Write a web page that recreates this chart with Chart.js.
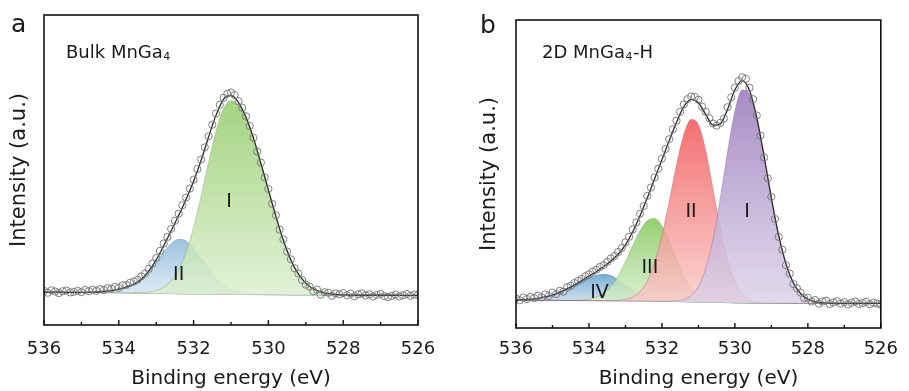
<!DOCTYPE html>
<html><head><meta charset="utf-8">
<script src="https://cdn.jsdelivr.net/npm/chart.js@4/dist/chart.umd.min.js"></script>
<style>
html,body{margin:0;padding:0;background:#fff;}
#wrap{position:relative;width:909px;height:391px;overflow:hidden;}
#ca{position:absolute;left:0;top:0;}
#cb{position:absolute;left:455px;top:0;}
</style></head><body>
<div id="wrap">
<canvas id="ca" width="455" height="391"></canvas>
<canvas id="cb" width="454" height="391"></canvas>
</div>
<script>
// ---- shared energy grids (eV) ----
const energyData = [536.0,535.9,535.8,535.7,535.6,535.5,535.4,535.3,535.2,535.1,535.0,534.9,534.8,534.7,534.6,534.5,534.4,534.3,534.2,534.1,534.0,533.9,533.8,533.7,533.6,533.5,533.4,533.3,533.2,533.1,533.0,532.9,532.8,532.7,532.6,532.5,532.4,532.3,532.2,532.1,532.0,531.9,531.8,531.7,531.6,531.5,531.4,531.3,531.2,531.1,531.0,530.9,530.8,530.7,530.6,530.5,530.4,530.3,530.2,530.1,530.0,529.9,529.8,529.7,529.6,529.5,529.4,529.3,529.2,529.1,529.0,528.9,528.8,528.7,528.6,528.5,528.4,528.3,528.2,528.1,528.0,527.9,527.8,527.7,527.6,527.5,527.4,527.3,527.2,527.1,527.0,526.9,526.8,526.7,526.6,526.5,526.4,526.3,526.2,526.1,526.0];
const energyFit = [536.0,535.8,535.6,535.4,535.2,535.0,534.8,534.6,534.4,534.2,534.0,533.8,533.6,533.4,533.2,533.0,532.8,532.6,532.4,532.2,532.0,531.8,531.6,531.4,531.2,531.0,530.8,530.6,530.4,530.2,530.0,529.8,529.6,529.4,529.2,529.0,528.8,528.6,528.4,528.2,528.0,527.8,527.6,527.4,527.2,527.0,526.8,526.6,526.4,526.2,526.0];
const xTickValues = [536,534,532,530,528,526];
const xMinorTicks = [535,533,531,529,527];

// ---- panel a: Bulk MnGa4 ----
const dataA = [11.0,10.4,11.2,10.8,10.3,10.9,11.1,10.5,10.7,11.0,10.6,11.3,10.9,11.4,11.0,11.6,11.3,11.9,11.7,12.3,12.0,12.8,12.9,13.6,14.0,14.6,15.7,16.6,18.1,19.8,21.6,23.9,26.3,28.4,31.0,33.6,35.9,38.6,41.1,44.0,46.9,50.3,53.4,57.3,60.9,64.6,68.2,71.0,73.3,74.6,75.0,74.2,72.2,70.1,67.3,64.2,60.4,56.0,52.4,47.6,43.9,39.1,35.4,30.8,27.6,23.7,21.2,18.3,16.6,14.5,13.0,12.4,10.9,11.4,9.8,10.6,10.4,9.4,10.2,9.9,10.3,9.6,10.1,9.3,9.9,10.2,9.5,9.9,9.2,9.7,10.0,9.3,9.0,9.4,9.8,9.2,9.6,10.0,9.4,9.8,9.7];
const fitA = [10.6,10.6,10.6,10.55,10.55,10.5,10.6,10.65,10.85,11.1,11.6,12.25,13.15,14.75,17.35,21.0,25.55,30.4,35.35,40.6,46.4,53.05,60.65,67.7,72.8,74.05,71.75,67.1,60.35,52.1,43.6,35.05,27.35,21.0,16.5,13.5,11.7,10.7,10.1,9.85,9.73,9.65,9.6,9.6,9.6,9.6,9.6,9.6,9.55,9.55,9.55];
const bgA = [10.6,10.6,10.6,10.55,10.55,10.5,10.5,10.45,10.45,10.4,10.4,10.35,10.3,10.3,10.25,10.2,10.15,10.1,10.05,10.0,10.0,9.95,9.95,9.9,9.9,9.85,9.85,9.8,9.8,9.8,9.75,9.75,9.75,9.7,9.7,9.7,9.7,9.7,9.65,9.65,9.65,9.65,9.6,9.6,9.6,9.6,9.6,9.6,9.55,9.55,9.55];
const peakA_I = [0,0,0,0,0,0,0,0,0,0,0,0,0.05,0.15,0.4,0.9,2.0,4.1,7.7,13.5,21.5,31.5,42.5,52.6,59.9,62.5,61.0,56.8,50.3,42.2,33.8,25.3,17.6,11.3,6.8,3.8,2.0,1.0,0.45,0.2,0.08,0,0,0,0,0,0,0,0,0,0];
const peakA_II = [0,0,0,0,0,0,0.1,0.2,0.4,0.7,1.2,1.9,2.8,4.3,6.7,9.9,13.4,16.2,17.6,17.1,14.9,11.6,8.2,5.2,3.0,1.7,0.9,0.5,0.25,0.1,0.05,0,0,0,0,0,0,0,0,0,0,0,0,0,0,0,0,0,0,0,0];
const labelsA = ['I','II'];
const labelEA = [531.05,532.4];
const labelYA = [39.7,16.1];

// ---- panel b: 2D MnGa4-H ----
const dataB = [9.6,9.0,9.9,9.4,10.1,9.7,10.5,9.9,10.9,10.4,11.5,11.0,12.1,11.8,13.2,13.7,14.6,15.3,15.9,16.8,17.4,18.3,18.9,19.8,20.4,21.5,22.6,23.4,24.7,26.0,27.8,29.6,32.0,34.3,37.1,39.6,42.9,45.6,48.9,51.7,55.0,58.1,61.3,64.5,67.3,70.2,72.6,74.3,75.2,75.0,74.1,71.9,70.2,68.1,66.4,65.7,66.6,68.0,71.7,74.9,78.0,80.2,81.4,80.9,78.0,74.3,69.0,62.5,55.4,48.6,42.6,35.4,29.6,25.4,20.4,17.7,14.3,12.9,11.5,9.7,9.8,8.6,9.1,7.9,8.6,8.9,7.8,8.3,8.7,7.9,8.4,7.7,8.2,8.6,7.8,8.1,8.5,7.7,8.2,7.9,7.6];
const fitB = [9.09,9.18,9.34,9.63,10.08,10.69,11.59,12.68,13.98,15.38,16.83,18.27,19.86,21.79,23.93,26.99,31.23,36.45,42.26,48.47,54.6,60.83,66.82,71.86,74.23,73.13,69.36,65.85,66.28,71.06,77.34,80.31,77.1,68.29,55.79,42.18,30.04,20.83,14.72,11.21,9.35,8.52,8.18,8.06,8.02,8.0,8.0,8.0,8.0,8.0,8.0];
const bgB = [9.0,9.0,9.0,9.0,9.0,8.95,8.95,8.93,8.92,8.9,8.9,8.88,8.86,8.84,8.82,8.8,8.78,8.75,8.72,8.68,8.65,8.62,8.58,8.53,8.48,8.43,8.38,8.33,8.28,8.23,8.19,8.15,8.12,8.09,8.07,8.05,8.04,8.03,8.02,8.01,8.0,8.0,8.0,8.0,8.0,8.0,8.0,8.0,8.0,8.0,8.0];
const peakB_I = [0,0,0,0,0,0,0,0,0,0,0,0,0,0,0,0,0,0,0,0,0,0.06,0.23,0.73,2.05,5.0,10.9,20.5,33.8,49.0,62.2,69.1,67.8,59.8,47.6,34.1,22.0,12.8,6.7,3.2,1.35,0.52,0.18,0.06,0.02,0,0,0,0,0,0];
const peakB_II = [0,0,0,0,0,0,0,0,0,0,0,0,0,0.05,0.16,0.49,1.3,3.1,6.55,12.5,21.3,32.5,44.3,54.2,59.2,57.6,49.2,36.7,24.1,13.8,6.95,3.06,1.18,0.4,0.12,0.03,0,0,0,0,0,0,0,0,0,0,0,0,0,0,0];
const peakB_III = [0,0,0,0,0,0,0,0,0.06,0.18,0.48,1.14,2.4,4.7,8.1,12.7,17.95,22.8,26.1,26.9,24.5,19.6,13.7,8.4,4.5,2.1,0.88,0.32,0.1,0.03,0,0,0,0,0,0,0,0,0,0,0,0,0,0,0,0,0,0,0,0,0];
const peakB_IV = [0.09,0.18,0.34,0.63,1.08,1.74,2.64,3.75,5.0,6.3,7.45,8.25,8.6,8.2,6.85,5.0,3.2,1.8,0.89,0.39,0.15,0.05,0.01,0,0,0,0,0,0,0,0,0,0,0,0,0,0,0,0,0,0,0,0,0,0,0,0,0,0,0,0];
const labelsB = ['I','II','III','IV'];
const labelEB = [529.67,531.2,532.33,533.71];
const labelYB = [37.8,37.8,19.4,11.5];

const FONT = "'DejaVu Sans', 'Liberation Sans', sans-serif";
const INK = '#1a1a1a';

function pts(xs, ys) { return xs.map((x, i) => ({x: x, y: ys[i]})); }

function gradFill(top, bottom, peak, bg) {
  return (c) => {
    const chart = c.chart;
    if (!chart.chartArea || !chart.scales || !chart.scales.y) return top;
    let mi = 0;
    peak.forEach((v, i) => { if (v > peak[mi]) mi = i; });
    const y = chart.scales.y;
    const yTop = y.getPixelForValue(peak[mi] + bg[mi]);
    const yBot = y.getPixelForValue(bg[mi]);
    const g = chart.ctx.createLinearGradient(0, yTop, 0, yBot);
    g.addColorStop(0, top);
    g.addColorStop(1, bottom);
    return g;
  };
}

const decor = {
  id: 'decor',
  afterDatasetsDraw(chart, args, o) {
    const {ctx, chartArea: a, scales: {x, y}} = chart;
    ctx.save();
    ctx.strokeStyle = '#111';
    ctx.lineWidth = 1.6;
    ctx.strokeRect(a.left, a.top, a.right - a.left, a.bottom - a.top);
    ctx.lineWidth = 1.4;
    ctx.beginPath();
    xTickValues.forEach(v => { const p = x.getPixelForValue(v); ctx.moveTo(p, a.bottom); ctx.lineTo(p, a.bottom - 5); });
    xMinorTicks.forEach(v => { const p = x.getPixelForValue(v); ctx.moveTo(p, a.bottom); ctx.lineTo(p, a.bottom - 3); });
    ctx.stroke();
    ctx.fillStyle = INK;
    ctx.font = '19px ' + FONT;
    ctx.textAlign = 'center';
    ctx.textBaseline = 'middle';
    o.labels.forEach((t, i) => ctx.fillText(t, x.getPixelForValue(o.lx[i]), y.getPixelForValue(o.ly[i])));
    ctx.textAlign = 'left';
    ctx.textBaseline = 'alphabetic';
    let tx = a.left + o.nameDx, ty = a.top + o.nameDy;
    ctx.font = '18px ' + FONT;
    ctx.fillText(o.name[0], tx, ty);
    tx += ctx.measureText(o.name[0]).width + 0.5;
    ctx.font = '11px ' + FONT;
    ctx.fillText(o.name[1], tx, ty + 2);
    tx += ctx.measureText(o.name[1]).width + 0.5;
    if (o.name[2]) { ctx.font = '18px ' + FONT; ctx.fillText(o.name[2], tx, ty); }
    ctx.font = '25px ' + FONT;
    ctx.fillText(o.letter, o.letterX, o.letterY);
    ctx.restore();
  }
};

function makeChart(id, cfg) {
  const nPeaks = cfg.peaks.length;
  const bgIndex = 2 + nPeaks;
  const datasets = [
    {label: 'data', data: pts(energyData, cfg.data), showLine: false, pointRadius: 3.6, pointBorderWidth: 1,
     pointBorderColor: 'rgba(115,115,115,0.9)', pointBackgroundColor: 'rgba(255,255,255,0)', borderColor: 'rgba(0,0,0,0)', fill: false},
    {label: 'fit', data: pts(energyFit, cfg.fit), borderColor: '#2b2b2b', borderWidth: 1.3, pointRadius: 0, fill: false, cubicInterpolationMode: 'monotone'}
  ];
  cfg.peaks.forEach(p => {
    datasets.push({label: p.name, data: pts(energyFit, p.values.map((v, i) => v + cfg.bg[i])),
      borderColor: p.line, borderWidth: 0.7, pointRadius: 0, cubicInterpolationMode: 'monotone',
      fill: bgIndex, backgroundColor: gradFill(p.top, p.bottom, p.values, cfg.bg)});
  });
  datasets.push({label: 'background', data: pts(energyFit, cfg.bg), borderColor: 'rgba(90,110,110,0.8)', borderWidth: 0.8, pointRadius: 0, fill: false});
  return new Chart(document.getElementById(id), {
    type: 'line',
    data: {datasets: datasets},
    options: {
      responsive: false, animation: false, devicePixelRatio: 1, events: [],
      layout: {padding: cfg.pad},
      plugins: {legend: {display: false}, tooltip: {enabled: false}, decor: cfg.decor},
      scales: {
        x: {type: 'linear', min: 526, max: 536, reverse: true,
            afterBuildTicks: s => { s.ticks = xTickValues.map(v => ({value: v})); },
            ticks: {font: {family: FONT, size: 18}, color: INK, padding: cfg.tickPad, maxRotation: 0, autoSkip: false},
            grid: {display: false, drawTicks: false}, border: {display: false},
            title: {display: true, text: 'Binding energy (eV)', font: {family: FONT, size: 20}, color: INK, padding: 0},
            afterFit: s => { s.height = cfg.xh; }},
        y: {min: 0, max: 100, ticks: {display: false}, grid: {display: false, drawTicks: false}, border: {display: false},
            title: {display: true, text: 'Intensity (a.u.)', font: {family: FONT, size: 21}, color: INK, padding: {top: cfg.ytPad, bottom: 0}},
            afterFit: s => { s.width = cfg.yw; }}
      }
    },
    plugins: [decor]
  });
}

makeChart('ca', {
  data: dataA, fit: fitA, bg: bgA,
  peaks: [
    {name: 'I', values: peakA_I, top: 'rgba(148,204,108,0.85)', bottom: 'rgba(218,238,204,0.8)', line: 'rgba(120,170,90,0.6)'},
    {name: 'II', values: peakA_II, top: 'rgba(128,178,214,0.8)', bottom: 'rgba(205,226,240,0.7)', line: 'rgba(100,150,190,0.6)'}
  ],
  pad: {left: 0, top: 15, right: 37, bottom: 0}, xh: 66, yw: 44, tickPad: 14, ytPad: 7.4,
  decor: {labels: labelsA, lx: labelEA, ly: labelYA, name: ['Bulk MnGa', '4', ''], nameDx: 22, nameDy: 43, letter: 'a', letterX: 11, letterY: 32}
});

makeChart('cb', {
  data: dataB, fit: fitB, bg: bgB,
  peaks: [
    {name: 'I', values: peakB_I, top: 'rgba(158,128,190,0.9)', bottom: 'rgba(218,208,232,0.8)', line: 'rgba(130,100,160,0.6)'},
    {name: 'II', values: peakB_II, top: 'rgba(242,92,92,0.88)', bottom: 'rgba(250,198,198,0.8)', line: 'rgba(200,80,80,0.6)'},
    {name: 'III', values: peakB_III, top: 'rgba(132,200,92,0.88)', bottom: 'rgba(212,236,198,0.8)', line: 'rgba(110,160,80,0.6)'},
    {name: 'IV', values: peakB_IV, top: 'rgba(100,160,206,0.88)', bottom: 'rgba(192,216,236,0.8)', line: 'rgba(80,130,170,0.6)'}
  ],
  pad: {left: 0, top: 20, right: 19, bottom: 0}, xh: 63, yw: 61, tickPad: 11, ytPad: 22.4,
  decor: {labels: labelsB, lx: labelEB, ly: labelYB, name: ['2D MnGa', '4', '-H'], nameDx: 26, nameDy: 38, letter: 'b', letterX: 25, letterY: 33}
});
</script>
</body></html>
